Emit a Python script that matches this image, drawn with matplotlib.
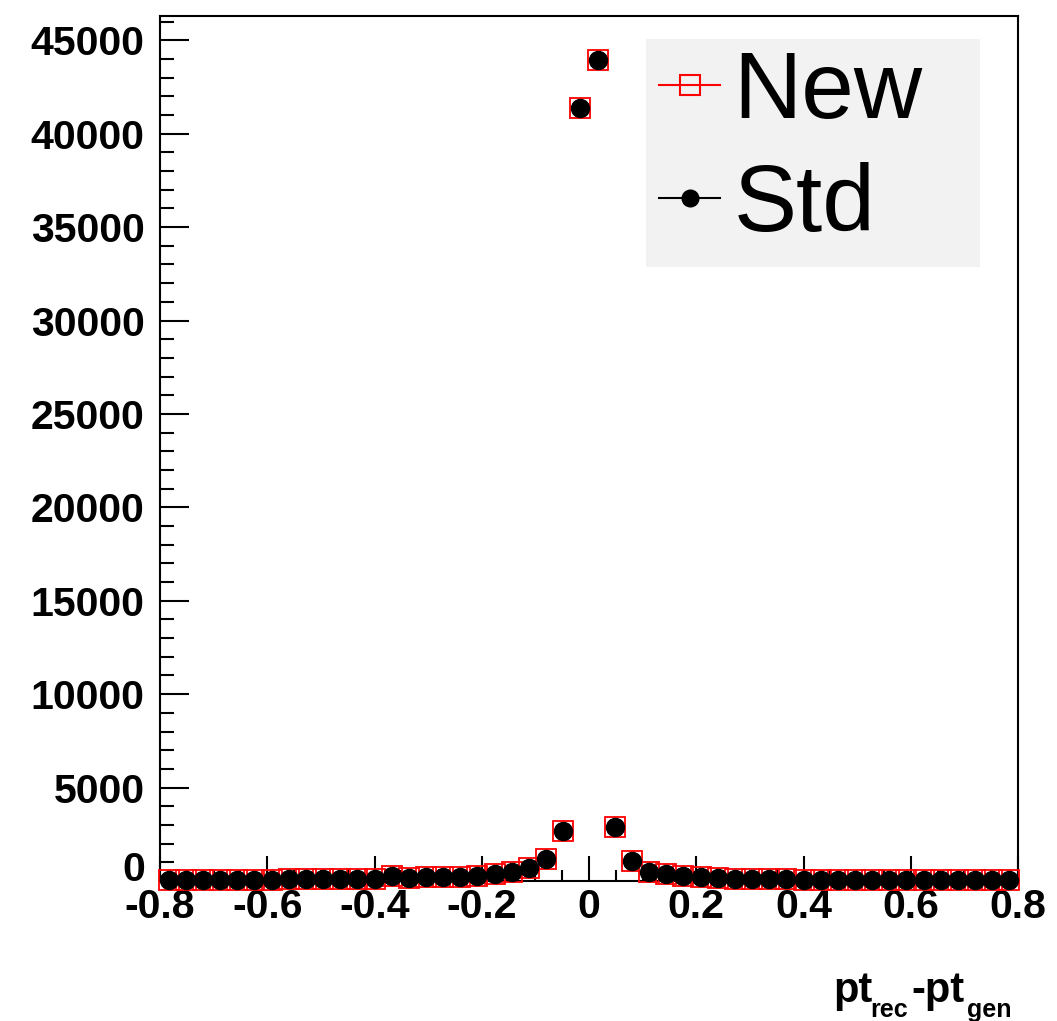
import matplotlib
matplotlib.use("Agg")
import matplotlib.pyplot as plt
import numpy as np
from matplotlib.lines import Line2D
from matplotlib.patches import Rectangle
from matplotlib.ticker import MultipleLocator, FixedLocator

plt.rcParams['font.family'] = ['Liberation Sans', 'DejaVu Sans']

# 50 bins from -0.8 to 0.8
bin_lo = -0.8
bin_hi = 0.8
n_bins = 50

std_counts = [60, 60, 70, 70, 80, 70, 80, 90, 90, 100,
              100, 110, 110, 250, 150, 200, 220, 230, 260, 380,
              480, 700, 1180, 2680, 41380, 43950, 2890, 1070, 480, 370,
              270, 230, 150, 110, 100, 90, 90, 80, 80, 70,
              70, 70, 60, 60, 60, 60, 50, 50, 50, 50]
new_counts = [60, 60, 70, 70, 80, 70, 80, 90, 90, 100,
              100, 110, 110, 250, 150, 200, 220, 230, 260, 380,
              480, 700, 1180, 2680, 41380, 43950, 2890, 1070, 480, 370,
              270, 230, 150, 110, 100, 90, 90, 80, 80, 70,
              70, 70, 60, 60, 60, 60, 50, 50, 50, 50]

y_max = 46300
y_ticks = [0, 5000, 10000, 15000, 20000, 25000, 30000, 35000, 40000, 45000]
x_ticks = [-0.8, -0.6, -0.4, -0.2, 0, 0.2, 0.4, 0.6, 0.8]
x_tick_labels = ['-0.8', '-0.6', '-0.4', '-0.2', '0', '0.2', '0.4', '0.6', '0.8']

W, H = 1057, 1021
edges = np.linspace(bin_lo, bin_hi, n_bins + 1)
centers = 0.5 * (edges[:-1] + edges[1:])

fig = plt.figure(figsize=(W / 100, H / 100), dpi=100)
ax = fig.add_axes([160 / W, 1 - 881 / H, 858 / W, 865 / H])

ax.plot(centers, new_counts, linestyle='none', marker='s', markersize=14.5,
        markerfacecolor='none', markeredgecolor='red', markeredgewidth=1.3,
        clip_on=False, zorder=3)
ax.plot(centers, std_counts, linestyle='none', marker='o', markersize=13,
        markerfacecolor='black', markeredgecolor='black', clip_on=False, zorder=4)

ax.set_xlim(bin_lo, bin_hi)
ax.set_ylim(0, y_max)

ax.xaxis.set_major_locator(FixedLocator(x_ticks))
ax.set_xticklabels(x_tick_labels)
ax.xaxis.set_minor_locator(MultipleLocator(0.05))
ax.yaxis.set_major_locator(FixedLocator(y_ticks))
ax.yaxis.set_minor_locator(MultipleLocator(1000))

ax.tick_params(axis='both', which='both', direction='in', width=1.5,
               top=False, right=False, labelsize=29.5, color='black')
ax.tick_params(axis='y', which='major', length=21, pad=11)
ax.tick_params(axis='y', which='minor', length=10)
ax.tick_params(axis='x', which='major', length=18, pad=5)
ax.tick_params(axis='x', which='minor', length=8)
for lab in ax.get_xticklabels() + ax.get_yticklabels():
    lab.set_fontweight('bold')
# keep the y "0" label just above the x labels
ax.get_yticklabels()[0].set_verticalalignment('baseline')
for sp in ax.spines.values():
    sp.set_linewidth(1.5)

# legend box (grey, no border)
ax.add_patch(Rectangle((646 / W, 1 - 267 / H), (980 - 646) / W, (267 - 39) / H,
                       transform=fig.transFigure, facecolor='#f2f2f2',
                       edgecolor='none', zorder=5, clip_on=False))
handles = [
    Line2D([], [], color='red', linewidth=1.5, marker='s', markersize=14,
           markerfacecolor='none', markeredgecolor='red', markeredgewidth=1.5),
    Line2D([], [], color='black', linewidth=1.5, marker='o', markersize=12,
           markerfacecolor='black'),
]
leg = ax.legend(handles, ['New', 'Std'], loc='upper left',
                bbox_to_anchor=((659 - 160) / 858, (881 - 49) / 865),
                prop={'size': 68}, frameon=False,
                handlelength=0.65, handletextpad=0.14, borderpad=0,
                labelspacing=0.25, borderaxespad=0)
leg.set_zorder(6)

# x axis title: pt_rec - pt_gen
fig.text(833 / W, 1 - 1002 / H, 'pt', fontsize=30, fontweight='bold',
         ha='left', va='baseline')
fig.text(870 / W, 1 - 1017 / H, 'rec', fontsize=18, fontweight='bold',
         ha='left', va='baseline')
fig.text(911 / W, 1 - 1002 / H, '-pt', fontsize=30, fontweight='bold',
         ha='left', va='baseline')
fig.text(967 / W, 1 - 1017 / H, 'gen', fontsize=18, fontweight='bold',
         ha='left', va='baseline')

fig.savefig('out.png', dpi=100)
